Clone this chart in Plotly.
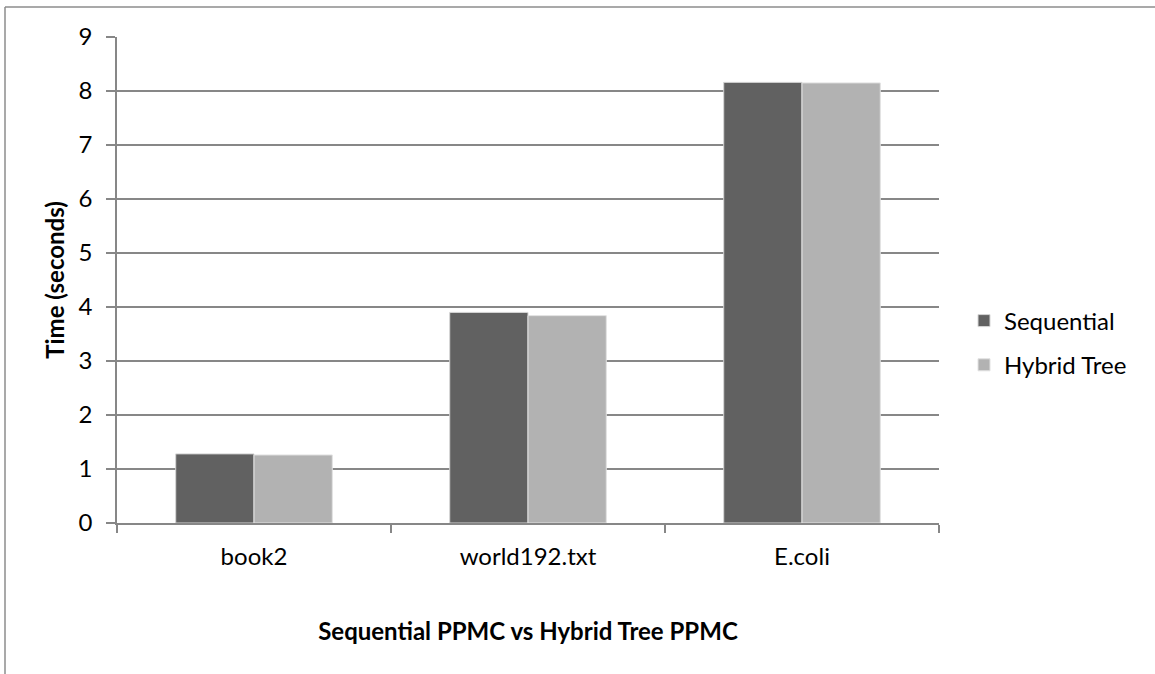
import plotly.graph_objects as go

# Benchmark inputs and measured run times (seconds)
files = ["book2", "world192.txt", "E.coli"]
sequential_times = [1.28, 3.90, 8.16]
hybrid_tree_times = [1.26, 3.84, 8.15]
y_ticks = [0, 1, 2, 3, 4, 5, 6, 7, 8, 9]

FONT = "Lato, 'Open Sans', sans-serif"
FS = 24
GRID = "#878787"

fig = go.Figure()
fig.add_trace(go.Bar(
    x=files, y=sequential_times, name="Sequential",
    marker=dict(color="#616161", line=dict(color="#d6d6d6", width=1)),
    legendgroup="seq",
))
fig.add_trace(go.Bar(
    x=files, y=hybrid_tree_times, name="Hybrid Tree",
    marker=dict(color="#b2b2b2", line=dict(color="#e2e2e2", width=1)),
    legendgroup="hyb",
))

W, H = 1155, 674
L, R, T, B = 117, 939, 37, 523
pw, ph = R - L, B - T


def px_x(px):
    return (px - L) / pw


def px_y(py):
    return (B - py) / ph


fig.update_layout(
    width=W, height=H,
    margin=dict(l=L, r=W - R, t=T, b=H - B, pad=0),
    paper_bgcolor="white", plot_bgcolor="white",
    barmode="group", bargap=0.4286, bargroupgap=0,
    font=dict(family=FONT, size=FS, color="#000000"),
    showlegend=True,
    legend=dict(
        x=px_x(964), xanchor="left",
        y=px_y(343), yanchor="middle",
        font=dict(family=FONT, size=FS),
        tracegroupgap=10,
        itemwidth=30,
        bgcolor="rgba(0,0,0,0)",
    ),
    xaxis=dict(
        type="category",
        showgrid=False,
        showline=True, linecolor=GRID, linewidth=1.5,
        ticks="outside", tickson="boundaries", ticklen=8,
        tickcolor=GRID, tickwidth=1.5,
        ticklabelstandoff=11,
        tickfont=dict(family=FONT, size=FS),
        title=dict(text="<b>Sequential PPMC vs Hybrid Tree PPMC</b>",
                   font=dict(family=FONT, size=FS), standoff=55),
    ),
    yaxis=dict(
        range=[0, 9], tickvals=y_ticks,
        showgrid=True, gridcolor=GRID, gridwidth=1.5,
        showline=True, linecolor=GRID, linewidth=1.5,
        ticks="outside", ticklen=9, tickcolor=GRID, tickwidth=1.5,
        ticklabelstandoff=9,
        tickfont=dict(family=FONT, size=FS),
        zeroline=False,
        title=dict(text="<b>Time (seconds)</b>",
                   font=dict(family=FONT, size=FS), standoff=7),
    ),
    shapes=[
        # chart-area frame (top and left edges)
        dict(type="line", xref="paper", yref="paper",
             x0=px_x(5), x1=px_x(1160), y0=px_y(7), y1=px_y(7),
             line=dict(color="#8c8c8c", width=1.5), layer="below"),
        dict(type="line", xref="paper", yref="paper",
             x0=px_x(5), x1=px_x(5), y0=px_y(7), y1=px_y(680),
             line=dict(color="#8c8c8c", width=1.5), layer="below"),
    ],
)

fig.write_html("out.html")
